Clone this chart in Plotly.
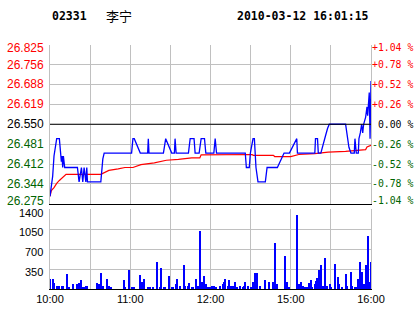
import plotly.graph_objects as go

# ---------------- data ----------------
stock_code = "02331"
stock_name = "李宁"
timestamp = "2010-03-12 16:01:15"
prev_close = 26.55

# trading minutes from 10:00 (0) ... 12:30/14:30 (150) ... 16:00 (240)
time_tick_minutes = [0, 30, 60, 90, 120, 150, 180, 210, 240]
time_tick_labels = ["10:00", "", "11:00", "", "12:00", "", "15:00", "", "16:00"]

price_ticks = [26.275, 26.344, 26.412, 26.481, 26.550, 26.619, 26.688, 26.756, 26.825]
price_tick_labels = ["26.275", "26.344", "26.412", "26.481", "26.550", "26.619", "26.688", "26.756", "26.825"]
pct_tick_labels = ["-1.04 %", "-0.78 %", "-0.52 %", "-0.26 %", "\u00a00.00 %", "+0.26 %", "+0.52 %", "+0.78 %", "+1.04 %"]

vol_ticks = [350, 700, 1050, 1400]
vol_tick_labels = ["350", "700", "1050", "1400"]

price_minutes = [0, 1, 2, 3, 4, 5, 7, 8, 8.5, 9, 9.5, 10, 11, 20.5, 21.75, 23.5, 24.5, 25.5, 26.8, 27.5, 28,
                 38, 39, 39.5, 40.5, 61, 62, 63, 67.5, 73, 73.5, 74, 84.8, 86.5, 91, 93, 93.5, 94.3,
                 103.5, 104.8, 107.7, 108.5, 111.5, 113, 115.5, 116.5, 122.5, 123.5, 124.5,
                 146, 146.8, 149, 149.8, 151.8, 152.8, 153.3, 154, 155.5, 161, 162.3, 170, 175, 179,
                 184.5, 185, 198, 198.5, 200, 200.6, 202.5, 204.5, 206, 207.5, 208.8, 221, 222.5, 223.5,
                 225, 227.5, 228, 229, 230.5, 231, 232, 233, 233.8, 234.5, 236, 237, 237.5, 238, 238.7,
                 239.3, 240]
price_values = [26.30, 26.33, 26.37, 26.44, 26.47, 26.50, 26.50, 26.46, 26.42, 26.44, 26.40, 26.44, 26.40,
                26.40, 26.35, 26.40, 26.35, 26.40, 26.35, 26.40, 26.35,
                26.35, 26.40, 26.43, 26.45, 26.45, 26.50, 26.50, 26.45, 26.45, 26.50, 26.45, 26.45,
                26.50, 26.45, 26.45, 26.50, 26.45,
                26.45, 26.50, 26.50, 26.45, 26.45, 26.50, 26.50, 26.45, 26.45, 26.50, 26.45,
                26.45, 26.40, 26.40, 26.45, 26.50, 26.50, 26.45, 26.40, 26.35, 26.35, 26.40, 26.40,
                26.45, 26.45, 26.50, 26.45, 26.45, 26.50, 26.50, 26.45, 26.45, 26.48, 26.51, 26.535,
                26.55, 26.55, 26.50, 26.47,
                26.45, 26.45, 26.50, 26.45, 26.45, 26.50, 26.52, 26.55, 26.52, 26.55, 26.575, 26.61,
                26.58, 26.64, 26.66, 26.50, 26.70]

avg_minutes = [0, 1, 3, 5, 7, 10, 12, 38, 40, 44, 51, 56, 62, 68, 78, 87, 96, 106, 112, 113, 151, 152,
               167, 168, 180, 186, 198, 208, 221, 229, 236, 237, 240]
avg_values = [26.30, 26.32, 26.33, 26.345, 26.355, 26.367, 26.376, 26.376, 26.38, 26.39, 26.395, 26.40,
              26.40, 26.41, 26.416, 26.425, 26.428, 26.433, 26.433, 26.444, 26.445, 26.442, 26.442,
              26.438, 26.438, 26.445, 26.448, 26.453, 26.456, 26.46, 26.462, 26.471, 26.477]

vol_minutes = [0, 2, 3, 5, 6, 7, 9, 10, 13, 14, 17, 20, 22, 23, 25, 26, 27, 28, 35, 36, 37, 38, 40, 43,
               44, 46, 55, 56, 59, 61, 62, 63, 67, 69, 70, 73, 75, 77, 80, 82, 83, 85, 86, 89, 91, 92,
               94, 95, 97, 100, 101, 103, 104, 106, 107, 109, 111, 112, 114, 115, 117, 118, 120, 121,
               123, 124, 127, 129, 130, 131, 133, 134, 135, 136, 137, 138, 140, 142, 144, 145, 146,
               148, 150, 152, 153, 155, 157, 161, 164, 167, 168, 170, 176, 177, 179, 185, 186, 188,
               189, 190, 191, 192, 193, 194, 195, 196, 198, 199, 200, 201, 203, 204, 206, 207, 209,
               210, 213, 215, 216, 218, 221, 222, 225, 226, 228, 229, 230, 231, 232, 233, 235, 236,
               237, 238, 239, 240]
vol_values = [170, 170, 100, 55, 50, 55, 55, 55, 270, 40, 80, 80, 110, 150, 40, 40, 55, 55, 100, 55, 80,
              275, 55, 170, 55, 40, 150, 40, 330, 40, 40, 40, 240, 125, 175, 40, 40, 40, 480, 40, 375,
              40, 40, 220, 40, 40, 80, 170, 50, 420, 55, 60, 100, 40, 40, 170, 55, 1010, 125, 220,
              80, 40, 40, 55, 55, 40, 55, 80, 130, 170, 55, 150, 55, 55, 55, 125, 40, 55, 40, 55, 115,
              55, 40, 125, 275, 275, 55, 150, 125, 115, 800, 80, 580, 130, 40, 1300, 80, 115, 60, 40,
              40, 40, 40, 110, 150, 40, 80, 140, 200, 330, 420, 55, 540, 55, 90, 40, 440, 215, 80, 40,
              260, 55, 295, 55, 40, 40, 170, 55, 470, 295, 80, 420, 220, 920, 115, 470]

# ---------------- styling ----------------
RED = "#ff0000"
GREEN = "#006400"
BLACK = "#000000"
GRID = "#c0c0c0"
W, H = 414, 314
X0, X1 = 50, 371
P_TOP, P_BOT = 45, 203.5
V_TOP, V_BOT = 209, 289


def tick_color(v):
    if abs(v - prev_close) < 1e-6:
        return BLACK
    return RED if v > prev_close else GREEN


def edge_shift(i, n, top_shift, bot_shift, mid_shift):
    if i == 0:
        return bot_shift
    if i == n - 1:
        return top_shift
    return mid_shift


fig = go.Figure()
fig.add_trace(go.Bar(x=vol_minutes, y=vol_values, width=0.8, marker=dict(color="#0000ff", line=dict(width=0)),
                     xaxis="x2", yaxis="y3", showlegend=False))
fig.add_trace(go.Scatter(x=avg_minutes, y=avg_values, mode="lines", line=dict(color=RED, width=1.2),
                         xaxis="x", yaxis="y", showlegend=False))
fig.add_trace(go.Scatter(x=price_minutes, y=price_values, mode="lines", line=dict(color="#0000ff", width=1.3),
                         xaxis="x", yaxis="y", showlegend=False))

xd = [X0 / W, X1 / W]
pd_ = [(H - P_BOT) / H, (H - P_TOP) / H]
vd = [(H - V_BOT) / H, (H - V_TOP) / H]

annotations = [
    dict(text="<b>%s</b>" % stock_code, x=50 / W, y=(H - 16) / H, xref="paper", yref="paper",
         xanchor="left", yanchor="middle", showarrow=False,
         font=dict(family="DejaVu Sans Mono", size=11.5, color=BLACK)),
    dict(text=stock_name, x=104 / W, y=(H - 16) / H, xref="paper", yref="paper",
         xanchor="left", yanchor="middle", showarrow=False,
         font=dict(family="Noto Sans CJK SC", size=13, color=BLACK)),
    dict(text="<b>%s</b>" % timestamp, x=371 / W, y=(H - 16) / H, xref="paper", yref="paper",
         xanchor="right", yanchor="middle", showarrow=False,
         font=dict(family="DejaVu Sans Mono", size=11.5, color=BLACK)),
]
n = len(price_ticks)
for i, (v, t, pt) in enumerate(zip(price_ticks, price_tick_labels, pct_tick_labels)):
    ys = edge_shift(i, n, -3, 3, 0)
    annotations.append(dict(text=t, x=45.5 / W, y=v, xref="paper", yref="y", xanchor="right",
                            yanchor="middle", yshift=ys, showarrow=False,
                            font=dict(family="Liberation Sans", size=12, color=tick_color(v))))
    annotations.append(dict(text=pt, x=371.5 / W, y=v, xref="paper", yref="y", xanchor="left",
                            yanchor="middle", yshift=ys, showarrow=False, borderpad=0, borderwidth=0,
                            font=dict(family="DejaVu Sans Mono", size=9.8, color=tick_color(v))))
for i, (v, t) in enumerate(zip(vol_ticks, vol_tick_labels)):
    ys = -4 if i == len(vol_ticks) - 1 else -2.5
    annotations.append(dict(text=t, x=45 / W, y=v, xref="paper", yref="y3", xanchor="right",
                            yanchor="middle", yshift=ys, showarrow=False,
                            font=dict(family="Liberation Sans", size=11, color=BLACK)))

fig.update_layout(
    width=W, height=H, margin=dict(l=0, r=0, t=0, b=0, autoexpand=False),
    paper_bgcolor="white", plot_bgcolor="white",
    bargap=0,
    xaxis=dict(domain=xd, anchor="y", range=[0, 240], tickvals=time_tick_minutes, showticklabels=False,
               showgrid=True, gridcolor=GRID, gridwidth=1, zeroline=False, showline=True,
               linecolor=BLACK, linewidth=1, ticks="", automargin=False),
    yaxis=dict(domain=pd_, anchor="x", range=[price_ticks[0], price_ticks[-1]], tickvals=price_ticks,
               showticklabels=False, showgrid=True, gridcolor=GRID, zeroline=False, showline=True,
               linecolor=GRID, mirror=True, ticks="", automargin=False),
    xaxis2=dict(domain=xd, anchor="y3", range=[0, 240], tickvals=time_tick_minutes, ticktext=time_tick_labels,
                showgrid=True, gridcolor=GRID, zeroline=False, showline=True, linecolor=BLACK, ticks="",
                automargin=False, tickfont=dict(family="Liberation Sans", size=11, color=BLACK)),
    yaxis3=dict(domain=vd, anchor="x2", range=[0, 1400], tickvals=vol_ticks, showticklabels=False,
                showgrid=True, gridcolor=GRID, zeroline=False, showline=True, linecolor=GRID, mirror=True,
                ticks="", automargin=False),
    shapes=[dict(type="line", xref="x domain", yref="y", x0=0, x1=1, y0=prev_close, y1=prev_close,
                 line=dict(color=BLACK, width=1))],
    annotations=annotations,
)

fig.write_html("out.html")
